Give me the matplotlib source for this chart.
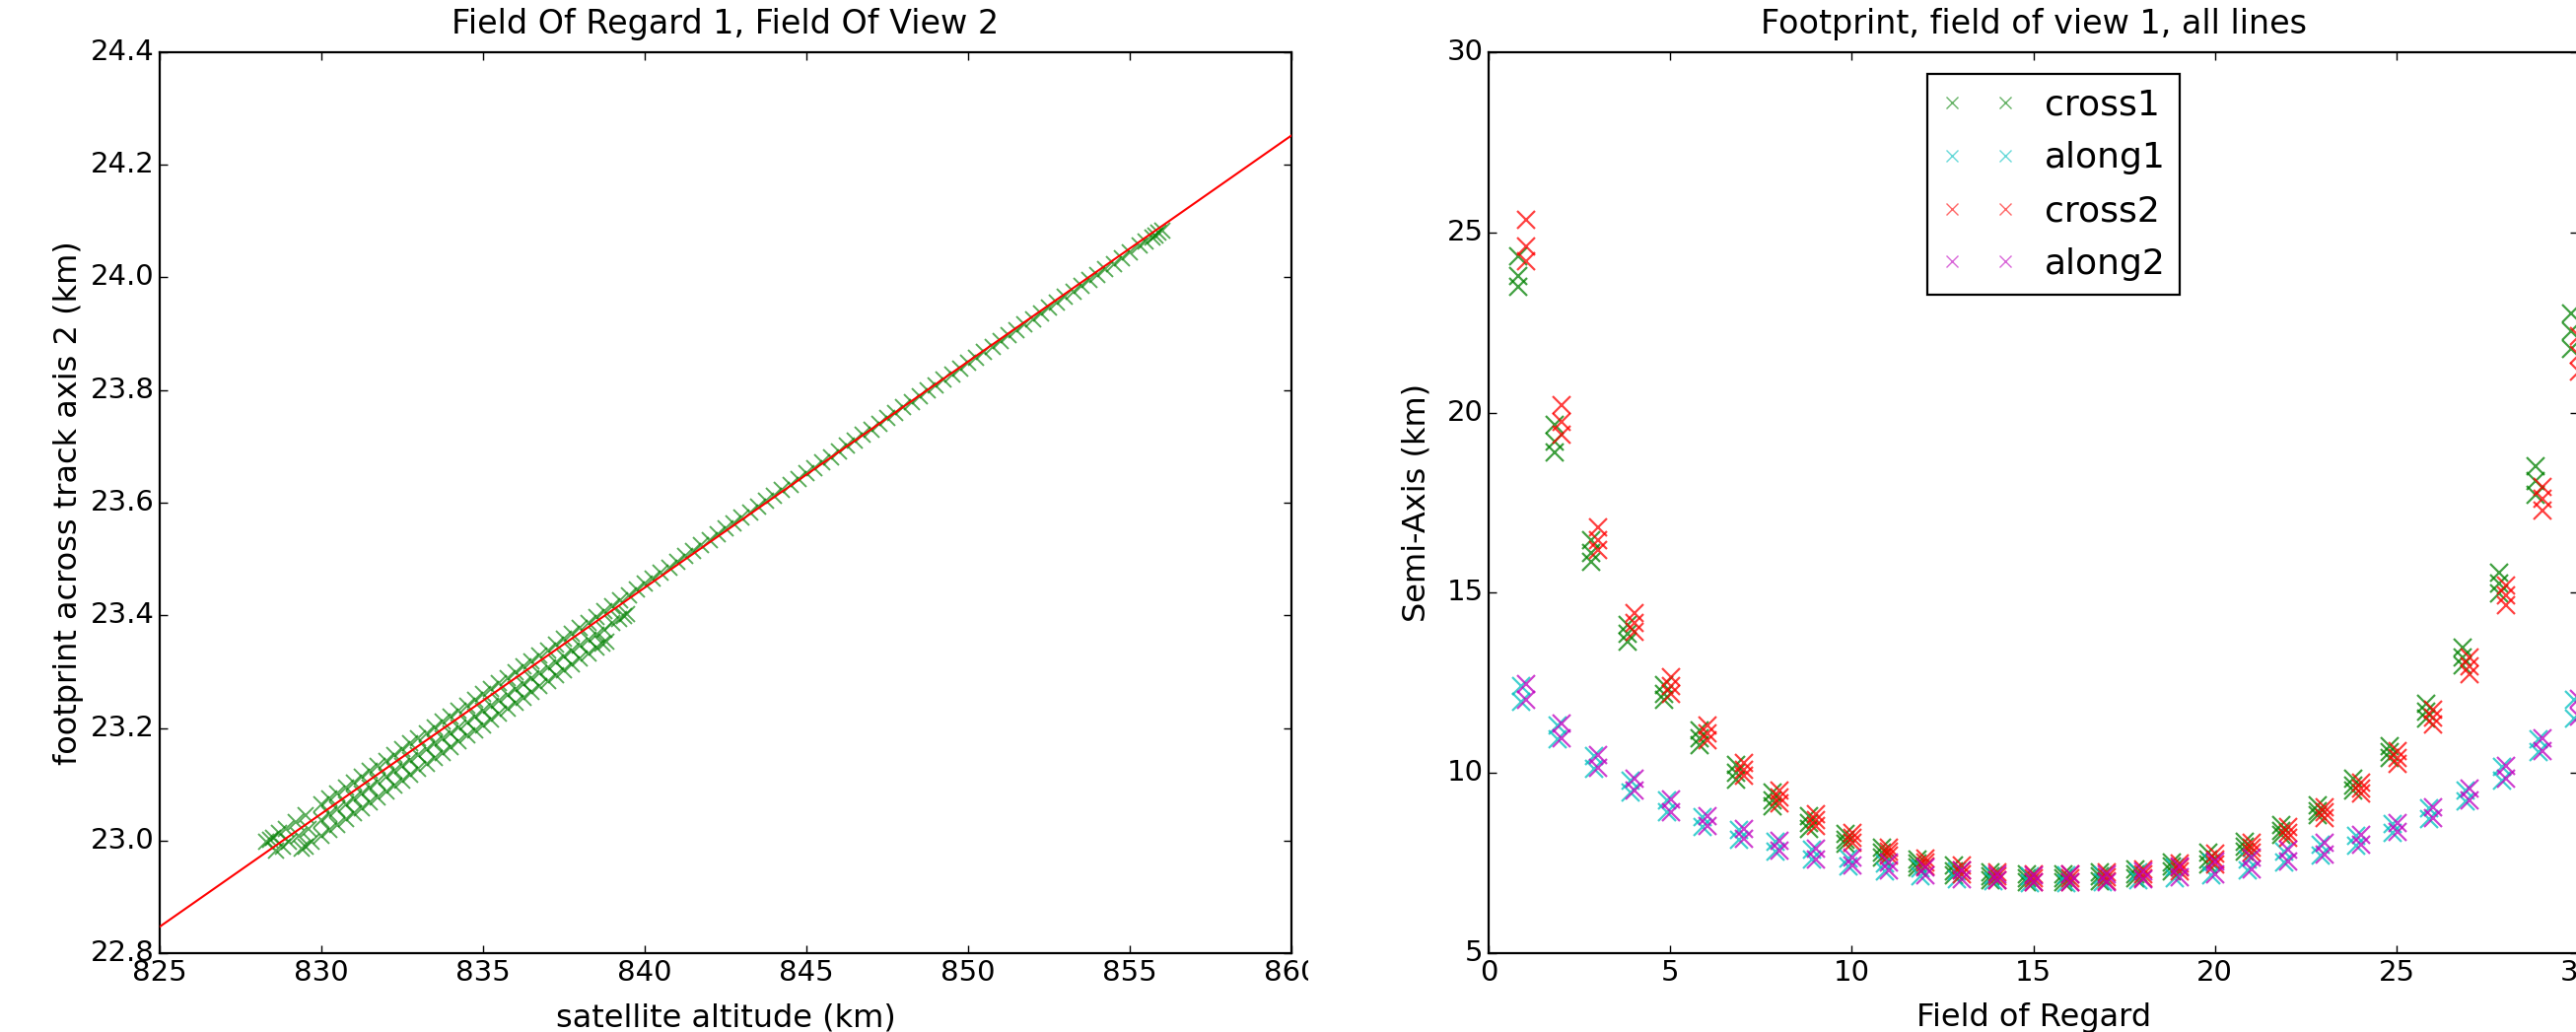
import matplotlib
matplotlib.use("Agg")
import matplotlib.pyplot as plt
import numpy as np
from matplotlib.patches import Rectangle

# --- left panel: satellite altitude vs across-track footprint (FOR 1, FOV 2) ---
# upper track (whole altitude range)
alt_a = [828.3, 828.4, 828.5, 828.7, 828.9, 829.2, 829.5,
         830.0, 830.5, 831.0, 831.5, 832.0, 832.5, 833.0, 833.5, 834.0, 834.5,
         835.0, 835.5, 836.0, 836.5, 837.0, 837.5, 838.0, 838.5, 839.0, 839.5,
         840.0, 840.5, 841.0, 841.5, 842.0, 842.5, 843.0, 843.5, 844.0, 844.5,
         845.0, 845.5, 846.0, 846.5, 847.0, 847.5, 848.0, 848.5, 849.0, 849.5,
         850.0, 850.5, 851.0, 851.5, 852.0, 852.5, 853.0, 853.5, 854.0, 854.5,
         855.0, 855.3, 855.5, 855.7, 855.8, 855.9, 856.0]
foot_a = [22.998, 23.001, 23.005, 23.013, 23.021, 23.033, 23.045,
          23.064, 23.084, 23.103, 23.123, 23.142, 23.162, 23.182, 23.201, 23.221, 23.240,
          23.260, 23.280, 23.299, 23.319, 23.338, 23.358, 23.378, 23.397, 23.417, 23.436,
          23.456, 23.476, 23.495, 23.515, 23.534, 23.554, 23.574, 23.593, 23.613, 23.632,
          23.652, 23.672, 23.691, 23.711, 23.730, 23.750, 23.770, 23.789, 23.809, 23.828,
          23.848, 23.868, 23.887, 23.907, 23.926, 23.946, 23.966, 23.985, 24.005, 24.024,
          24.044, 24.056, 24.064, 24.071, 24.075, 24.079, 24.083]
alt_a2 = [830.25, 830.75, 831.25, 831.75, 832.25, 832.75, 833.25, 833.75, 834.25, 834.75,
          835.25, 835.75, 836.25, 836.75, 837.25, 837.75, 838.25, 838.75, 839.25, 839.75,
          840.25, 840.75, 841.25, 841.75, 842.25, 842.75, 843.25, 843.75, 844.25, 844.75,
          845.25, 845.75, 846.25, 846.75, 847.25, 847.75, 848.25, 848.75, 849.25, 849.75,
          850.25, 850.75, 851.25, 851.75, 852.25, 852.75, 853.25, 853.75, 854.25, 854.75]
foot_a2 = [23.074, 23.094, 23.113, 23.133, 23.152, 23.172, 23.191, 23.211, 23.231, 23.250,
           23.270, 23.289, 23.309, 23.329, 23.348, 23.368, 23.387, 23.407, 23.427, 23.446,
           23.466, 23.485, 23.505, 23.525, 23.544, 23.564, 23.583, 23.603, 23.623, 23.642,
           23.662, 23.681, 23.701, 23.721, 23.740, 23.760, 23.779, 23.799, 23.819, 23.838,
           23.858, 23.877, 23.897, 23.917, 23.936, 23.956, 23.975, 23.995, 24.015, 24.034]

# middle track (ends near 839.5 km)
alt_b = [828.6, 828.8, 829.0, 829.3, 829.6,
         830.0, 830.5, 831.0, 831.5, 832.0, 832.5, 833.0, 833.5, 834.0, 834.5,
         835.0, 835.5, 836.0, 836.5, 837.0, 837.5, 838.0, 838.5, 839.0,
         839.2, 839.35, 839.45]
foot_b = [22.982, 22.989, 22.997, 23.009, 23.020,
          23.036, 23.055, 23.075, 23.094, 23.114, 23.133, 23.152, 23.172, 23.191, 23.210,
          23.230, 23.249, 23.269, 23.288, 23.308, 23.327, 23.347, 23.366, 23.386,
          23.393, 23.399, 23.403]
alt_b2 = [830.25, 830.75, 831.25, 831.75, 832.25, 832.75, 833.25, 833.75, 834.25,
          834.75, 835.25, 835.75, 836.25, 836.75, 837.25, 837.75, 838.25, 838.75]
foot_b2 = [23.046, 23.065, 23.084, 23.104, 23.123, 23.143, 23.162, 23.182, 23.201,
           23.220, 23.240, 23.259, 23.278, 23.298, 23.317, 23.337, 23.356, 23.375]

# lower track (ends near 838.8 km)
alt_c = [829.4, 829.5, 829.7,
         830.0, 830.5, 831.0, 831.5, 832.0, 832.5, 833.0, 833.5, 834.0, 834.5,
         835.0, 835.5, 836.0, 836.5, 837.0, 837.5, 838.0, 838.5,
         838.7, 838.8]
foot_c = [22.985, 22.989, 22.997,
          23.009, 23.028, 23.048, 23.068, 23.087, 23.107, 23.127, 23.146, 23.166, 23.186,
          23.205, 23.225, 23.244, 23.264, 23.284, 23.303, 23.323, 23.343,
          23.350, 23.354]
alt_c2 = [830.25, 830.75, 831.25, 831.75, 832.25, 832.75, 833.25, 833.75, 834.25,
          834.75, 835.25, 835.75, 836.25, 836.75, 837.25, 837.75, 838.25]
foot_c2 = [23.019, 23.038, 23.058, 23.077, 23.097, 23.117, 23.136, 23.156, 23.176,
           23.195, 23.215, 23.235, 23.254, 23.274, 23.294, 23.313, 23.333]

# linear fit drawn in red
fit_alt = [825.0, 860.0]
fit_foot = [22.847, 24.252]

# --- right panel: semi-axes per field of regard, all scan lines ---
field_of_regard = list(range(1, 31))

cross1_lo = [23.50, 18.90, 15.85, 13.65, 12.03, 10.78, 9.82, 9.08, 8.44, 8.03,
             7.66, 7.39, 7.16, 7.02, 6.97, 6.96, 7.00, 7.08, 7.28, 7.46,
             7.83, 8.28, 8.83, 9.51, 10.42, 11.52, 12.98, 14.98, 17.73, 21.78]
cross1_mid = [23.80, 19.20, 16.10, 13.85, 12.20, 10.95, 10.00, 9.25, 8.60, 8.15,
              7.80, 7.50, 7.28, 7.13, 7.08, 7.07, 7.12, 7.20, 7.40, 7.60,
              7.95, 8.40, 8.95, 9.65, 10.58, 11.70, 13.20, 15.25, 18.10, 22.25]
cross1_hi = [24.35, 19.65, 16.45, 14.12, 12.43, 11.19, 10.23, 9.45, 8.81, 8.30,
             7.94, 7.61, 7.43, 7.25, 7.20, 7.19, 7.24, 7.33, 7.51, 7.78,
             8.10, 8.56, 9.10, 9.83, 10.74, 11.93, 13.48, 15.57, 18.50, 22.74]

cross2_lo = [24.20, 19.40, 16.18, 13.91, 12.20, 10.92, 9.91, 9.17, 8.53, 8.07,
             7.71, 7.41, 7.20, 7.03, 6.97, 6.96, 7.00, 7.08, 7.27, 7.45,
             7.80, 8.19, 8.74, 9.42, 10.24, 11.34, 12.75, 14.66, 17.27, 21.15]
cross2_mid = [24.60, 19.75, 16.45, 14.15, 12.42, 11.10, 10.08, 9.33, 8.68, 8.20,
              7.82, 7.52, 7.30, 7.14, 7.08, 7.07, 7.11, 7.20, 7.38, 7.60,
              7.92, 8.35, 8.90, 9.58, 10.42, 11.55, 12.95, 14.92, 17.60, 21.60]
cross2_hi = [25.34, 20.20, 16.82, 14.45, 12.66, 11.33, 10.28, 9.50, 8.85, 8.35,
             7.94, 7.63, 7.43, 7.25, 7.19, 7.18, 7.23, 7.32, 7.50, 7.76,
             8.05, 8.51, 9.06, 9.74, 10.61, 11.75, 13.20, 15.21, 17.95, 22.11]

along1_lo = [11.98, 10.93, 10.11, 9.47, 8.90, 8.50, 8.14, 7.82, 7.59, 7.41,
             7.27, 7.14, 7.04, 7.00, 6.95, 6.94, 6.96, 7.02, 7.08, 7.17,
             7.30, 7.53, 7.71, 7.98, 8.34, 8.71, 9.21, 9.80, 10.58, 11.52]
along1_hi = [12.42, 11.33, 10.46, 9.80, 9.24, 8.78, 8.41, 8.09, 7.86, 7.63,
             7.49, 7.36, 7.26, 7.17, 7.13, 7.16, 7.17, 7.24, 7.38, 7.51,
             7.60, 7.83, 8.01, 8.25, 8.57, 9.03, 9.52, 10.16, 10.93, 12.02]
along2_lo = [12.02, 10.96, 10.14, 9.50, 8.92, 8.53, 8.17, 7.84, 7.61, 7.43,
             7.29, 7.16, 7.06, 7.02, 6.97, 6.96, 6.98, 7.04, 7.10, 7.19,
             7.32, 7.55, 7.73, 8.01, 8.37, 8.74, 9.24, 9.83, 10.61, 11.56]
along2_hi = [12.48, 11.38, 10.50, 9.83, 9.28, 8.81, 8.44, 8.12, 7.89, 7.66,
             7.52, 7.39, 7.29, 7.20, 7.16, 7.19, 7.20, 7.27, 7.42, 7.55,
             7.64, 7.87, 8.05, 8.28, 8.60, 9.06, 9.56, 10.20, 10.97, 12.06]

plt.style.use("classic")
plt.rcParams.update({
    "font.family": "DejaVu Sans",
    "font.size": 21,
    "axes.linewidth": 1.6,
    "xtick.major.size": 6,
    "ytick.major.size": 6,
    "xtick.major.width": 1.0,
    "ytick.major.width": 1.0,
    "xtick.labelsize": 21,
    "ytick.labelsize": 21,
    "axes.formatter.useoffset": False,
})

fig = plt.figure(figsize=(26.13, 10.47), dpi=100, facecolor="white")
ax1 = fig.add_axes([0.0620, 0.0764, 0.4393, 0.8730])
ax2 = fig.add_axes([0.5779, 0.0764, 0.4229, 0.8730])

# left plot
mk = dict(linestyle="none", marker="x", color="g", ms=12, mew=1.4, alpha=0.65)
for xs, ys in [(alt_a, foot_a), (alt_a2, foot_a2), (alt_b, foot_b),
               (alt_b2, foot_b2), (alt_c, foot_c), (alt_c2, foot_c2)]:
    ax1.plot(xs, ys, **mk)
ax1.plot(fit_alt, fit_foot, color="r", lw=1.5, zorder=5)
ax1.set_xlim(825, 860)
ax1.set_ylim(22.8, 24.4)
ax1.set_xticks(np.arange(825, 861, 5))
ax1.set_yticks(np.arange(22.8, 24.41, 0.2))
ax1.yaxis.set_major_formatter(plt.FormatStrFormatter("%.1f"))
ax1.set_xlabel("satellite altitude (km)", fontsize=23, labelpad=12)
ax1.set_ylabel("footprint across track axis 2 (km)", fontsize=23, labelpad=5)
ax1.set_title("Field Of Regard 1, Field Of View 2", fontsize=24, pad=14)

# cover the part of the left figure that was cut off in the original
fig.add_artist(Rectangle((0.508, 0), 0.5, 1, transform=fig.transFigure,
                         facecolor="white", edgecolor="none", zorder=0.5))
ax2.set_zorder(1)

# right plot
fr = np.array(field_of_regard)
series = [
    ("cross1", "g", fr - 0.18, [cross1_lo, cross1_mid, cross1_hi]),
    ("along1", "c", fr - 0.1, [along1_lo, along1_hi]),
    ("cross2", "r", fr + 0.02, [cross2_lo, cross2_mid, cross2_hi]),
    ("along2", "m", fr + 0.02, [along2_lo, along2_hi]),
]
for name, col, xs, lines in series:
    for i, vals in enumerate(lines):
        ax2.plot(xs, vals, linestyle="none", marker="x", color=col, ms=13, mew=1.6,
                 alpha=0.75, label=name if i == 0 else None)

ax2.set_xlim(0, 30)
ax2.set_ylim(5, 30)
ax2.set_xticks(np.arange(0, 31, 5))
ax2.set_yticks(np.arange(5, 31, 5))
ax2.set_xlabel("Field of Regard", fontsize=23, labelpad=12)
ax2.set_ylabel("Semi-Axis (km)", fontsize=23, labelpad=11)
ax2.set_title("Footprint, field of view 1, all lines", fontsize=24, pad=14)
leg = ax2.legend(loc="upper left", bbox_to_anchor=(1955 / 2613, 1 - 75 / 1047),
                 bbox_transform=fig.transFigure, borderaxespad=0, numpoints=2,
                 fontsize=26, markerscale=0.7, labelspacing=0.55, fancybox=False,
                 handlelength=2.1)
leg.get_frame().set_linewidth(1.6)
leg.get_frame().set_edgecolor("black")
for h in leg.legend_handles:
    h.set_markeredgewidth(1.0)
    h.set_alpha(0.6)

fig.savefig("out.png", dpi=100, facecolor="white")
